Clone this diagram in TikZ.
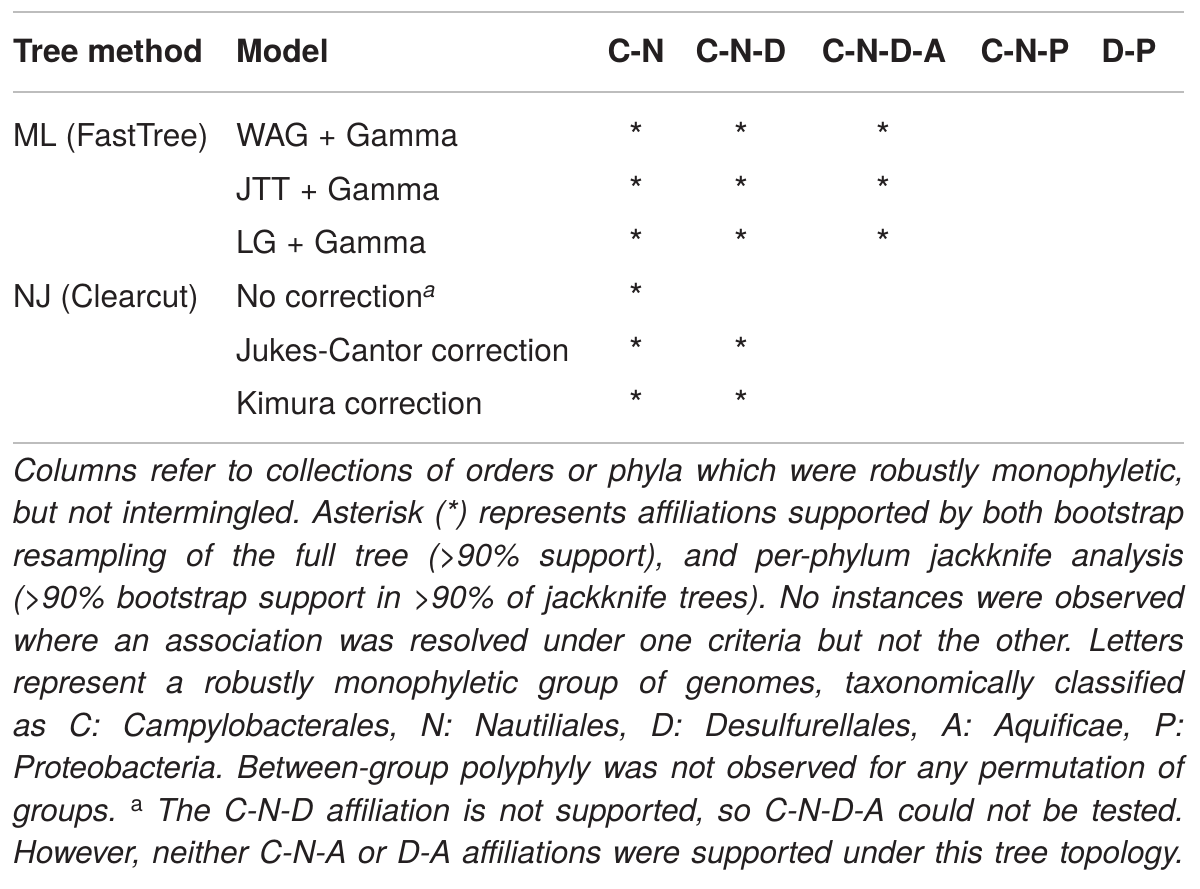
\documentclass[tikz,border=0pt]{standalone}
\usepackage{fontspec}
\setmainfont{TeX Gyre Heros}
\definecolor{ink}{HTML}{231F20}
\definecolor{rulegray}{HTML}{BDBDBD}
\newcommand{\plusgap}{\hspace{0.3em}+\hspace{0.3em}}
\frenchspacing
\begin{document}
\begin{tikzpicture}[x=1pt,y=-1pt,
  cell/.style={anchor=base west, inner sep=0pt, text=ink, font=\fontsize{31.5}{37}\selectfont},
  head/.style={anchor=base west, inner sep=0pt, text=ink, font=\fontsize{32}{37}\selectfont\bfseries},
  colhead/.style={head, anchor=base},
  star/.style={anchor=base, inner sep=0pt, text=ink, yshift=-2pt, font=\fontsize{36}{40}\selectfont},
  hrule/.style={draw=rulegray, line width=2pt},
  fline/.style={anchor=base west, inner sep=0pt, text=ink, font=\fontsize{31.5}{42}\selectfont\itshape\frenchspacing}]
\useasboundingbox (0,0) rectangle (1200,889);
% rules
\coordinate (r1l) at (13,12);  \coordinate (r1r) at (1184,12);
\coordinate (r2l) at (13,92);  \coordinate (r2r) at (1184,92);
\coordinate (r3l) at (13,443); \coordinate (r3r) at (1184,443);
\draw[hrule] (r1l) -- (r1r);
\draw[hrule] (r2l) -- (r2r);
\draw[hrule] (r3l) -- (r3r);
% header
\node[head] (h1) at (13,62) {Tree method};
\node[head] (h2) at (236,62) {Model};
\node[colhead] (h3) at (636,62) {C-N};
\node[colhead] (h4) at (741,62) {C-N-D};
\node[colhead] (h5) at (884,62) {C-N-D-A};
\node[colhead] (h6) at (1025,62) {C-N-P};
\node[colhead] (h7) at (1129,62) {D-P};
% body
\node[cell] (m1) at (13,146) {ML (FastTree)};
\node[cell] (m2) at (13,307) {NJ (Clearcut)};
\node[cell] (a1) at (236,146) {WAG\plusgap Gamma};
\node[cell] (a2) at (236,200) {JTT\plusgap Gamma};
\node[cell] (a3) at (236,253) {LG\plusgap Gamma};
\node[cell] (a4) at (236,307) {No correction\textsuperscript{\itshape a}};
\node[cell] (a5) at (236,361) {Jukes-Cantor correction};
\node[cell] (a6) at (236,414) {Kimura correction};
% asterisks
\node[star] (s11) at (636,146) {*};
\node[star] (s12) at (741,146) {*};
\node[star] (s13) at (883,146) {*};
\node[star] (s21) at (636,200) {*};
\node[star] (s22) at (741,200) {*};
\node[star] (s23) at (883,200) {*};
\node[star] (s31) at (636,253) {*};
\node[star] (s32) at (741,253) {*};
\node[star] (s33) at (883,253) {*};
\node[star] (s41) at (636,307) {*};
\node[star] (s51) at (636,361) {*};
\node[star] (s52) at (741,361) {*};
\node[star] (s61) at (636,414) {*};
\node[star] (s62) at (741,414) {*};
% footnote (each line justified to full width)
\node[fline] (f1) at (13,481) {\hbox to 1171pt{Columns refer to collections of orders or phyla which were robustly monophyletic,}};
\node[fline] (f2) at (13,523.5) {\hbox to 1171pt{but not intermingled. Asterisk (*) represents affiliations supported by both bootstrap}};
\node[fline] (f3) at (13,566) {\hbox to 1171pt{resampling of the full tree (>90\% support), and per-phylum jackknife analysis}};
\node[fline] (f4) at (13,608.5) {\hbox to 1171pt{(>90\% bootstrap support in >90\% of jackknife trees). No instances were observed}};
\node[fline] (f5) at (13,651) {\hbox to 1171pt{where an association was resolved under one criteria but not the other. Letters}};
\node[fline] (f6) at (13,693.5) {\hbox to 1171pt{represent a robustly monophyletic group of genomes, taxonomically classified}};
\node[fline] (f7) at (13,736) {\hbox to 1171pt{as C: Campylobacterales, N: Nautiliales, D: Desulfurellales, A: Aquificae, P:}};
\node[fline] (f8) at (13,778.5) {\hbox to 1171pt{Proteobacteria. Between-group polyphyly was not observed for any permutation of}};
\node[fline] (f9) at (13,821) {\hbox to 1171pt{groups. \textsuperscript{\upshape a} The C-N-D affiliation is not supported, so C-N-D-A could not be tested.}};
\node[fline] (f10) at (13,863.5) {\hbox to 1171pt{However, neither C-N-A or D-A affiliations were supported under this tree topology.}};
\end{tikzpicture}
\end{document}
